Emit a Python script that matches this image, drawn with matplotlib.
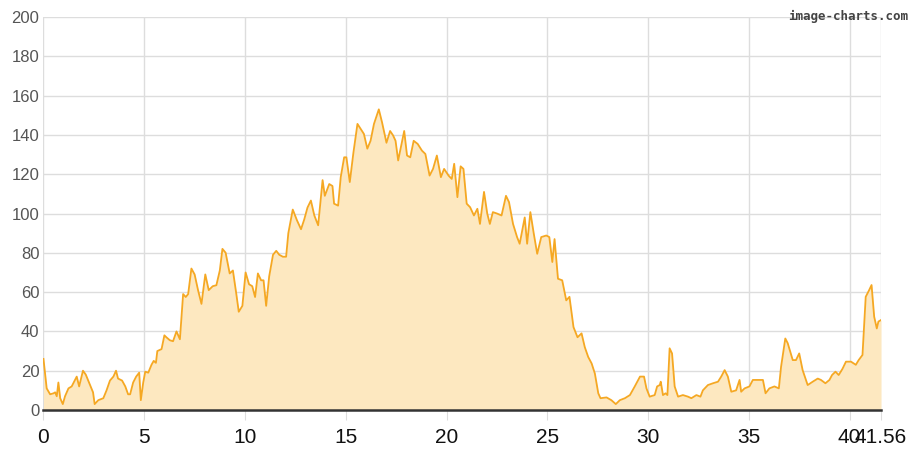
import matplotlib
matplotlib.use('Agg')
import matplotlib.pyplot as plt

# distance (x) and value (y) samples along the track
dist = [0.0, 0.16, 0.33, 0.5, 0.58, 0.66, 0.74, 0.83, 0.96, 1.07, 1.24, 1.4, 1.5, 1.65, 1.77, 1.96,
        2.1, 2.3, 2.46, 2.54, 2.72, 2.97, 3.13, 3.3, 3.47, 3.6, 3.7, 3.9, 4.06, 4.2, 4.3, 4.45,
        4.6, 4.75, 4.83, 4.95, 5.05, 5.2, 5.36, 5.47, 5.58, 5.65, 5.86, 6.0, 6.1, 6.27, 6.43, 6.6,
        6.77, 6.93, 7.06, 7.18, 7.34, 7.5, 7.67, 7.84, 8.03, 8.2, 8.4, 8.58, 8.75, 8.88, 9.04, 9.24,
        9.4, 9.57, 9.69, 9.87, 10.03, 10.2, 10.36, 10.5, 10.64, 10.8, 10.92, 11.05, 11.2, 11.39,
        11.55, 11.7, 11.88, 12.04, 12.15, 12.37, 12.58, 12.78, 12.94, 13.1, 13.27, 13.44, 13.63,
        13.85, 13.96, 14.18, 14.34, 14.42, 14.62, 14.75, 14.92, 15.03, 15.2, 15.38, 15.58, 15.74,
        15.9, 16.07, 16.23, 16.4, 16.64, 16.8, 17.02, 17.2, 17.35, 17.47, 17.6, 17.75, 17.9, 18.04,
        18.2, 18.37, 18.57, 18.78, 18.95, 19.16, 19.33, 19.52, 19.72, 19.88, 20.1, 20.26, 20.38,
        20.54, 20.7, 20.84, 21.0, 21.17, 21.36, 21.53, 21.66, 21.86, 22.02, 22.15, 22.3, 22.5,
        22.73, 22.95, 23.1, 23.3, 23.5, 23.63, 23.88, 24.0, 24.16, 24.33, 24.5, 24.7, 24.95, 25.1,
        25.25, 25.36, 25.53, 25.74, 25.94, 26.1, 26.3, 26.5, 26.7, 26.86, 27.03, 27.2, 27.36,
        27.53, 27.64, 27.94, 28.18, 28.4, 28.6, 28.85, 29.1, 29.34, 29.6, 29.8, 29.92, 30.08,
        30.33, 30.45, 30.58, 30.63, 30.74, 30.87, 30.96, 31.07, 31.19, 31.32, 31.49, 31.73, 31.98,
        32.15, 32.4, 32.6, 32.72, 32.97, 33.22, 33.47, 33.63, 33.8, 33.96, 34.13, 34.37, 34.54,
        34.62, 34.79, 35.03, 35.2, 35.45, 35.7, 35.83, 36.02, 36.27, 36.49, 36.6, 36.81, 36.93,
        37.18, 37.34, 37.5, 37.67, 37.92, 38.17, 38.42, 38.58, 38.8, 39.0, 39.13, 39.3, 39.46,
        39.65, 39.82, 40.07, 40.31, 40.45, 40.64, 40.8, 40.97, 41.09, 41.22, 41.35, 41.43, 41.56]

value = [26, 11, 8, 8.5, 9, 7, 14, 6, 3, 7, 11, 12, 14, 17, 12, 20,
         18, 13, 9, 3, 5, 6, 10, 15, 17, 20, 16, 15, 12, 8, 8, 14,
         17, 19, 5, 14, 19.5, 19, 23, 25, 24, 30, 31, 38, 37, 35.5, 35, 40,
         36, 59, 57.5, 59, 72, 69, 61, 54, 69, 61, 63, 63.5, 71, 82, 80, 69.5,
         71, 59, 50, 53, 70, 64, 63, 57.5, 69.5, 66, 66, 53, 68, 79,
         81, 79, 78, 78, 90, 102, 96.5, 92, 97, 103, 106.6, 99, 94,
         117, 109, 115, 114, 105, 104, 118.5, 128.6, 128.6, 116, 131, 145.6, 143,
         140.5, 133, 137, 145.6, 153, 146.4, 136, 142, 139.7, 137, 127, 134.6, 142, 129.5,
         128.6, 137, 135.4, 132, 130.3, 119.3, 122.7, 129.5, 118.5, 122.7, 119.3, 117.6, 125.3,
         108.3, 124, 122.7, 105, 103.2, 99, 102.4, 94.7, 111, 100, 94.7, 100.7, 100,
         99, 109, 105.8, 94.7, 88, 84.6, 98, 84.6, 100.7, 89.7, 79.5, 88, 88.8, 88,
         75.3, 87, 66.8, 66, 55.8, 57.6, 42.2, 37, 39, 32, 27, 23.7, 18.6,
         8.5, 6, 6.4, 5, 3, 5, 6, 7.6, 12, 17, 17, 11, 6.8,
         7.6, 12, 12.7, 14.4, 7.6, 8.5, 7.6, 31.4, 28.8, 12, 6.8, 7.6, 6.8,
         6, 7.6, 6.8, 10, 12.7, 13.6, 14.4, 17, 20.3, 17, 9.3, 10, 15.3,
         9.3, 11, 12, 15.3, 15.3, 15.3, 8.5, 11, 12, 11, 22, 36.4, 34,
         25.4, 25.4, 28.8, 20.3, 12.7, 14.4, 16, 15.3, 13.6, 15.3, 17.8, 19.5, 17.8,
         21, 24.6, 24.6, 23, 25.4, 28, 57.6, 61, 63.6, 47.5, 41.5, 45, 45.8]

x_ticks = [0, 5, 10, 15, 20, 25, 30, 35, 40, 41.56]
x_labels = ['0', '5', '10', '15', '20', '25', '30', '35', '40', '41.56']
y_ticks = [0, 20, 40, 60, 80, 100, 120, 140, 160, 180, 200]

plt.rcParams['font.family'] = ['Liberation Sans', 'DejaVu Sans']

fig = plt.figure(figsize=(9.21, 4.51), dpi=100)
ax = fig.add_axes([0.0472, 0.0909, 0.9094, 0.8714])

ax.fill_between(dist, value, 0, color='#fde8c0', linewidth=0)
ax.plot(dist, value, color='#f5a823', linewidth=1.3)

ax.set_xlim(0, 41.56)
ax.set_ylim(0, 200)
ax.set_xticks(x_ticks)
ax.set_xticklabels(x_labels, fontsize=15, color='#111111')
ax.set_yticks(y_ticks)
ax.set_yticklabels([str(v) for v in y_ticks], fontsize=12, color='#555555')

ax.grid(True, color='#dddddd', linewidth=1)
ax.set_axisbelow(True)
ax.tick_params(axis='x', length=7, color='#dddddd', pad=6)
ax.tick_params(axis='y', length=0, pad=3)

for side in ['top', 'right', 'left']:
    ax.spines[side].set_visible(False)
ax.spines['bottom'].set_color('#333333')
ax.spines['bottom'].set_linewidth(1.8)
ax.spines['bottom'].set_zorder(5)

fig.text(908 / 921, 1 - 16 / 451, 'image-charts.com', ha='right', va='center',
         fontsize=9, fontweight='bold', color='#444444', family='DejaVu Sans Mono')

fig.savefig('out.png', dpi=100)
